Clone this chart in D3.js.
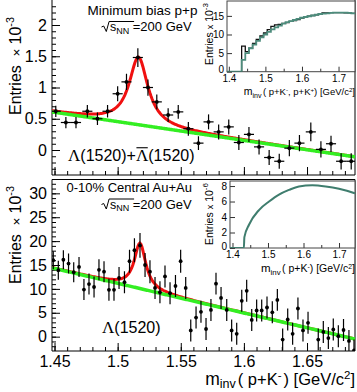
<!DOCTYPE html>
<html>
<head>
<meta charset="utf-8">
<script src="https://cdnjs.cloudflare.com/ajax/libs/d3/7.8.5/d3.min.js"></script>
<style>
  body { margin: 0; background: #fff; }
  svg text { font-family: "Liberation Sans", Arial, sans-serif; fill: #000; }
</style>
</head>
<body>
<div id="chart"></div>
<script>
// ---- p+p minimum bias, signal after mixed-event subtraction (x 10^-3)
var ppMass  = [1.451, 1.459, 1.467, 1.476, 1.484, 1.492, 1.500, 1.507, 1.516, 1.524,
               1.531, 1.540, 1.548, 1.556, 1.564, 1.572, 1.580, 1.588, 1.596, 1.604,
               1.612, 1.620, 1.628, 1.636, 1.644, 1.653, 1.661, 1.669, 1.677, 1.685];
var ppYield = [0.62, 0.44, 0.44, 0.62, 0.50, 0.62, 0.90, 1.09, 1.48, 1.00,
               0.77, 0.56, 0.61, 0.34, 0.11, 0.45, 0.29, 0.37, 0.12, 0.25,
               0.05, -0.12, -0.18, 0.03, 0.11, 0.29, 0.01, 0.10, -0.18, -0.18];
var ppErr   = [0.09, 0.09, 0.09, 0.10, 0.10, 0.10, 0.12, 0.13, 0.15, 0.13,
               0.12, 0.11, 0.11, 0.11, 0.11, 0.12, 0.12, 0.12, 0.12, 0.12,
               0.12, 0.12, 0.12, 0.13, 0.13, 0.15, 0.13, 0.13, 0.13, 0.13];
var ppBinHalf = 0.004;

// ---- 0-10% central Au+Au (x 10^-3)
var auMass  = [1.4490, 1.4530, 1.4570, 1.4611, 1.4652, 1.4694, 1.4733, 1.4773, 1.4813, 1.4852,
               1.4892, 1.4931, 1.4971, 1.5011, 1.5054, 1.5094, 1.5133, 1.5177, 1.5217, 1.5256,
               1.5296, 1.5335, 1.5375, 1.5415, 1.5458, 1.5499, 1.5539, 1.5579, 1.5621, 1.5660,
               1.5700, 1.5739, 1.5779, 1.5819, 1.5864, 1.5903, 1.5943, 1.5983, 1.6022, 1.6062,
               1.6101, 1.6141, 1.6183, 1.6225, 1.6265, 1.6307, 1.6347, 1.6386, 1.6428, 1.6468,
               1.6508, 1.6589, 1.6629, 1.6669, 1.6708, 1.6748, 1.6789, 1.6832, 1.6872];
var auYield = [16.0, 13.9, 16.1, 15.3, 13.5, 14.6, 9.85, 11.0, 10.4, 14.0,
               13.6, 9.8, 9.8, 12.3, 11.4, 15.8, 18.1, 19.1, 15.0, 13.6,
               10.2, 9.3, 12.6, 9.1, 10.6, 15.8, 10.2, 1.3, 4.0, 5.2,
               1.6, 5.6, 11.1, 8.1, 5.6, 1.3, 0.6, 7.5, 9.6, 3.5,
               5.5, 5.5, 6.1, 5.1, 7.7, -0.6, 3.6, 0.6, 5.9, 1.3,
               2.9, -0.6, 1.0, -0.3, 1.5, 0.1, 1.4, -0.9, -2.9];
var auErr   = [1.9, 2.0, 2.0, 2.1, 2.1, 2.1, 2.2, 2.2, 2.2, 2.2,
               2.2, 2.3, 2.3, 2.3, 2.3, 2.4, 2.5, 2.6, 2.5, 2.4,
               2.3, 2.3, 2.3, 2.3, 2.3, 2.4, 2.3, 2.3, 2.3, 2.3,
               2.3, 2.3, 2.3, 2.3, 2.3, 2.3, 2.3, 2.3, 2.3, 2.3,
               2.3, 2.3, 2.3, 2.3, 2.3, 2.3, 2.3, 2.3, 2.3, 2.3,
               2.3, 2.3, 2.3, 2.3, 2.3, 2.3, 2.3, 2.3, 2.3];

// ---- fits: Breit-Wigner + linear background (background given at the axis ends)
var bgMass = [1.448, 1.688];
var ppFit = { m0: 1.5165, gamma: 0.018, amp: 1.08, bg: [0.61, -0.11] };
var auFit = { m0: 1.5177, gamma: 0.011, amp: 9.5,  bg: [14.4, -0.5] };

// ---- inset p+p: same-event (black) and mixed-event (teal), x 10^-3, bin low edges
var ppInEdge  = [1.395, 1.405, 1.415, 1.425, 1.435, 1.445, 1.455, 1.465, 1.475, 1.485,
                 1.495, 1.505, 1.515, 1.525, 1.535, 1.545, 1.555, 1.565, 1.575, 1.585,
                 1.595, 1.605, 1.615, 1.625, 1.635, 1.645, 1.655, 1.665, 1.675, 1.685,
                 1.695, 1.705, 1.715, 1.725, 1.735, 1.745];
var ppInSame  = [0, 0, 0, 0, 6.9, 5.4, 6.3, 7.6, 8.7, 9.6,
                 10.4, 11.3, 12.2, 12.6, 12.7, 13.0, 13.2, 13.5, 13.7, 14.0,
                 14.4, 14.7, 14.9, 15.1, 15.3, 15.6, 15.8, 15.8, 15.9, 15.9,
                 15.9, 15.9, 15.8, 15.8, 15.7, 15.7];
var ppInMixed = [0, 0, 0, 0, 3.2, 5.0, 6.3, 7.3, 8.3, 9.2,
                 10.0, 10.7, 11.4, 11.9, 12.4, 12.9, 13.3, 13.6, 13.9, 14.2,
                 14.5, 14.7, 14.9, 15.1, 15.3, 15.5, 15.6, 15.7, 15.8, 15.9,
                 15.9, 15.9, 15.9, 15.8, 15.7, 15.7];

// ---- inset Au+Au, x 10^-6
var auInMass = [1.393, 1.432, 1.4335, 1.4465, 1.4746, 1.503, 1.531, 1.559, 1.587, 1.625, 1.6625, 1.700, 1.742, 1.745];
var auInVal  = [0, 0, 1.4, 3.0, 4.9, 6.0, 6.9, 7.5, 7.95, 8.1, 7.95, 7.65, 7.1, 7.05];

// ---- ticks
var xMajor = [1.45, 1.5, 1.55, 1.6, 1.65];
var xMinor = d3.range(145, 169).map(function (v) { return v / 100; });
var ppYMajor = [0, 0.5, 1, 1.5, 2];
var ppYMinor = d3.range(-3, 24).map(function (v) { return v / 10; });
var auYMajor = [0, 5, 10, 15, 20, 25, 30];
var auYMinor = d3.range(-2, 33);
var inXMajor = [1.4, 1.5, 1.6, 1.7];
var inXMinor = [1.45, 1.55, 1.65];
var ppInYTicks = [0, 5, 10, 15];
var auInYTicks = [0, 2, 4, 6, 8];

var W = 357, H = 392;
var svg = d3.select("#chart").append("svg").attr("width", W).attr("height", H);

var x = d3.scaleLinear().domain([1.448, 1.688]).range([52, 355]);
var yT = d3.scaleLinear().domain([-0.4, 2.4]).range([175, 0]);
var yB = d3.scaleLinear().domain([-3, 33]).range([351, 179]);

function bw(f, m) {
  var bg = f.bg[0] + (f.bg[1] - f.bg[0]) * (m - bgMass[0]) / (bgMass[1] - bgMass[0]);
  var d = (m - f.m0) / (f.gamma / 2);
  return { bg: bg, tot: bg + f.amp / (1 + d * d) };
}

// small helper: text pieces laid out one after another (sub/superscripts)
function rich(parent, px, py, pieces, anchor) {
  var g = parent.append("g");
  var cx = 0;
  pieces.forEach(function (p) {
    var t = g.append("text").attr("x", cx).attr("y", p.dy || 0)
      .attr("font-size", p.size).text(p.t);
    if (p.family) t.style("font-family", p.family);
    var w = t.node().getComputedTextLength();
    if (p.over) {
      g.append("line").attr("x1", cx + 0.5).attr("x2", cx + w - 0.5)
        .attr("y1", -p.size * 0.78).attr("y2", -p.size * 0.78)
        .attr("stroke", "#000").attr("stroke-width", 1.1);
    }
    cx += w + (p.gap || 0);
  });
  var dx = anchor === "end" ? -cx : 0;
  g.attr("transform", "translate(" + (px + dx) + "," + py + ")");
  return g;
}

function sqrtS(parent, px, py) {
  // ROOT style #sqrt{s_{NN}} =200 GeV
  parent.append("path")
    .attr("d", "M" + px + "," + (py - 4) + "l2.2,-1 l2.6,5.5 l2.8,-10 h25")
    .attr("fill", "none").attr("stroke", "#000").attr("stroke-width", 1);
  rich(parent, px + 8.5, py, [
    { t: "s", size: 12.5 },
    { t: "NN", size: 9, dy: 2.5, gap: 3.5 },
    { t: "=200 GeV", size: 13 }
  ]);
}

function drawPanel(y, yMajor, yMinor, bottom, top, showXLabels, clipId) {
  var g = svg.append("g");
  var xa = d3.axisBottom(x).tickValues(xMajor).tickSizeInner(-8).tickSizeOuter(0)
    .tickPadding(5).tickFormat(showXLabels ? d3.format("~g") : function () { return ""; });
  var xm = d3.axisBottom(x).tickValues(xMinor).tickSizeInner(-4).tickSizeOuter(0).tickFormat("");
  var ya = d3.axisLeft(y).tickValues(yMajor).tickSizeInner(-8).tickSizeOuter(0)
    .tickPadding(5).tickFormat(d3.format("~g"));
  var ym = d3.axisLeft(y).tickValues(yMinor).tickSizeInner(-4).tickSizeOuter(0).tickFormat("");
  [[xa, "translate(0," + bottom + ")"], [xm, "translate(0," + bottom + ")"],
   [ya, "translate(52,0)"], [ym, "translate(52,0)"]].forEach(function (a) {
    var ag = g.append("g").attr("transform", a[1]).call(a[0]);
    ag.select(".domain").remove();
    ag.selectAll("line").attr("stroke", "#000");
    ag.selectAll("text").attr("font-family", "Liberation Sans, Arial, sans-serif")
      .attr("font-size", 16).attr("fill", "#000");
  });
  g.append("path")
    .attr("d", "M52," + top + "V" + bottom + "H355V" + top + (top > 0 ? "H52" : ""))
    .attr("fill", "none").attr("stroke", "#000").attr("stroke-width", 1);
  svg.append("clipPath").attr("id", clipId).append("rect")
    .attr("x", 52).attr("y", top).attr("width", 303).attr("height", bottom - top);
  return svg.append("g").attr("clip-path", "url(#" + clipId + ")");
}

var grid = d3.range(0, 301).map(function (i) { return 1.448 + i * 0.0008; });

function drawFit(pg, y, f) {
  var red = d3.line().x(function (m) { return x(m); }).y(function (m) { return y(bw(f, m).tot); });
  var grn = d3.line().x(function (m) { return x(m); }).y(function (m) { return y(bw(f, m).bg); });
  pg.append("path").attr("d", red(grid)).attr("fill", "none")
    .attr("stroke", "#f01010").attr("stroke-width", 3);
  pg.append("path").attr("d", grn(grid)).attr("fill", "none")
    .attr("stroke", "#33ee22").attr("stroke-width", 3.5);
}

function drawPoints(pg, y, mass, val, err, half) {
  var pts = mass.map(function (m, i) { return { m: m, v: val[i], e: err[i] }; });
  pg.selectAll(null).data(pts).enter().append("line")
    .attr("x1", function (d) { return x(d.m); }).attr("x2", function (d) { return x(d.m); })
    .attr("y1", function (d) { return y(d.v - d.e); }).attr("y2", function (d) { return y(d.v + d.e); })
    .attr("stroke", "#000").attr("stroke-width", 1.2);
  if (half) {
    pg.selectAll(null).data(pts).enter().append("line")
      .attr("x1", function (d) { return x(d.m - half); }).attr("x2", function (d) { return x(d.m + half); })
      .attr("y1", function (d) { return y(d.v); }).attr("y2", function (d) { return y(d.v); })
      .attr("stroke", "#000").attr("stroke-width", 1.2);
  }
  pg.selectAll(null).data(pts).enter().append("circle")
    .attr("cx", function (d) { return x(d.m); }).attr("cy", function (d) { return y(d.v); })
    .attr("r", 1.9).attr("fill", "#000");
}

// ---------- top panel (p+p)
var pTop = drawPanel(yT, ppYMajor, ppYMinor, 175, 0, false, "clipTop");
drawFit(pTop, yT, ppFit);
drawPoints(pTop, yT, ppMass, ppYield, ppErr, ppBinHalf);

// ---------- bottom panel (Au+Au)
var pBot = drawPanel(yB, auYMajor, auYMinor, 351, 179.5, true, "clipBot");
drawFit(pBot, yB, auFit);
drawPoints(pBot, yB, auMass, auYield, auErr, 0);

// ---------- y titles
function yTitle(px, py, size) {
  var g = svg.append("g").attr("transform", "translate(" + px + "," + py + ") rotate(-90)");
  rich(g, 0, 0, [
    { t: "Entries", size: size, gap: size * 0.55 },
    { t: "×", size: size * 0.85, gap: size * 0.25 },
    { t: "10", size: size },
    { t: "-3", size: size * 0.68, dy: -size * 0.45 }
  ], "end");
}
yTitle(21, 17, 16);
yTitle(21, 186, 16);

// ---------- x title
rich(svg, 355, 384.5, [
  { t: "m", size: 17.5 },
  { t: "inv", size: 12.5, dy: 3.5, gap: 2 },
  { t: "( p+K", size: 16.5 },
  { t: "-", size: 11.5, dy: -6, gap: 2 },
  { t: ") [GeV/c", size: 16.5 },
  { t: "2", size: 11.5, dy: -6 },
  { t: "]", size: 16.5 }
], "end");

// ---------- labels inside panels
rich(svg, 87.5, 15, [{ t: "Minimum bias p+p", size: 13.5 }]);
sqrtS(svg, 101.5, 31);
rich(svg, 68, 161, [
  { t: "Λ", size: 17, family: "Liberation Serif, serif" },
  { t: "(1520)+", size: 16 },
  { t: "Λ", size: 17, family: "Liberation Serif, serif", over: true },
  { t: "(1520)", size: 16 }
]);
rich(svg, 66.5, 192, [{ t: "0-10% Central Au+Au", size: 13 }]);
sqrtS(svg, 101.5, 208.5);
rich(svg, 102, 333, [
  { t: "Λ", size: 17, family: "Liberation Serif, serif" },
  { t: "(1520)", size: 16 }
]);

// ---------- insets
function drawInset(cfg) {
  var xi = d3.scaleLinear().domain(cfg.xDom).range([cfg.x0, 355]);
  var yi = d3.scaleLinear().domain(cfg.yDom).range([cfg.y1, cfg.y0]);
  var g = svg.append("g");
  g.append("rect").attr("x", cfg.x0).attr("y", cfg.y0).attr("width", 355 - cfg.x0)
    .attr("height", cfg.y1 - cfg.y0).attr("fill", "#fff");
  var axes = [
    [d3.axisBottom(xi).tickValues(inXMajor).tickSizeInner(-5).tickPadding(3).tickFormat(d3.format(".1f")), "translate(0," + cfg.y1 + ")"],
    [d3.axisBottom(xi).tickValues(inXMinor).tickSizeInner(-3).tickFormat(""), "translate(0," + cfg.y1 + ")"],
    [d3.axisLeft(yi).tickValues(cfg.yTicks).tickSizeInner(-5).tickPadding(3).tickFormat(d3.format("d")), "translate(" + cfg.x0 + ",0)"]
  ];
  axes.forEach(function (a, k) {
    var ag = g.append("g").attr("transform", a[1]).call(a[0].tickSizeOuter(0));
    ag.select(".domain").remove();
    ag.selectAll("line").attr("stroke", "#333");
    ag.selectAll("text").attr("font-family", "Liberation Sans, Arial, sans-serif")
      .attr("font-size", 10).attr("fill", "#000");
    // keep the "0" of the y axis clear of the first x label
    if (k === 2) ag.selectAll("text").filter(function (d) { return d === 0; }).attr("dy", "0.1em");
  });
  var clip = "clip" + cfg.id;
  svg.append("clipPath").attr("id", clip).append("rect")
    .attr("x", cfg.x0).attr("y", cfg.y0).attr("width", 355 - cfg.x0).attr("height", cfg.y1 - cfg.y0);
  var pg = svg.append("g").attr("clip-path", "url(#" + clip + ")");
  cfg.series.forEach(function (s) {
    var line = d3.line().curve(s.curve).x(function (d) { return xi(d[0]); }).y(function (d) { return yi(d[1]); });
    pg.append("path").attr("d", line(s.mass.map(function (m, i) { return [m, s.val[i]]; })))
      .attr("fill", "none").attr("stroke", s.color).attr("stroke-width", s.width);
  });
  g.append("rect").attr("x", cfg.x0).attr("y", cfg.y0).attr("width", 355 - cfg.x0)
    .attr("height", cfg.y1 - cfg.y0).attr("fill", "none").attr("stroke", "#444").attr("stroke-width", 1);
  var tg = svg.append("g").attr("transform", "translate(" + cfg.titleX + "," + cfg.y0 + ") rotate(-90)");
  rich(tg, -2, 0, [
    { t: "Entries", size: 10.5, gap: 3 },
    { t: "x", size: 9, gap: 3 },
    { t: "10", size: 10.5 },
    { t: cfg.exp, size: 8, dy: -5 }
  ], "end");
  rich(svg, 355, cfg.titleY, [
    { t: "m", size: cfg.ts + 1 },
    { t: "inv", size: cfg.ts * 0.75, dy: 2.5, gap: 1.5 },
    { t: cfg.inner[0], size: cfg.ts },
    { t: "-", size: cfg.ts * 0.65, dy: -3.2 },
    { t: cfg.inner[1], size: cfg.ts },
    { t: cfg.inner[2], size: cfg.ts * 0.65, dy: -3.2 },
    { t: cfg.inner[3], size: cfg.ts },
    { t: "2", size: cfg.ts * 0.65, dy: -3.2 },
    { t: "]", size: cfg.ts }
  ], "end");
}

drawInset({
  id: "InTop", x0: 227, y0: 1, y1: 71.7, xDom: [1.395, 1.745], yDom: [0, 19],
  yTicks: ppInYTicks, exp: "-3", titleX: 213, titleY: 95, ts: 9.5,
  inner: ["( p+K", ", p+K", "+", ") [GeV/c"],
  series: [
    { mass: ppInEdge, val: ppInSame, color: "#111", width: 1.3, curve: d3.curveStepAfter },
    { mass: ppInEdge, val: ppInMixed, color: "#4d8c7c", width: 1.8, curve: d3.curveStepAfter }
  ]
});

drawInset({
  id: "InBot", x0: 230, y0: 181, y1: 248, xDom: [1.393, 1.745], yDom: [0, 8.65],
  yTicks: auInYTicks, exp: "-6", titleX: 213, titleY: 272, ts: 10.5,
  inner: ["( p+K", " ", "", ") [GeV/c"],
  series: [
    { mass: auInMass, val: auInVal, color: "#3f7d6e", width: 2, curve: d3.curveMonotoneX }
  ]
});
</script>
</body>
</html>
